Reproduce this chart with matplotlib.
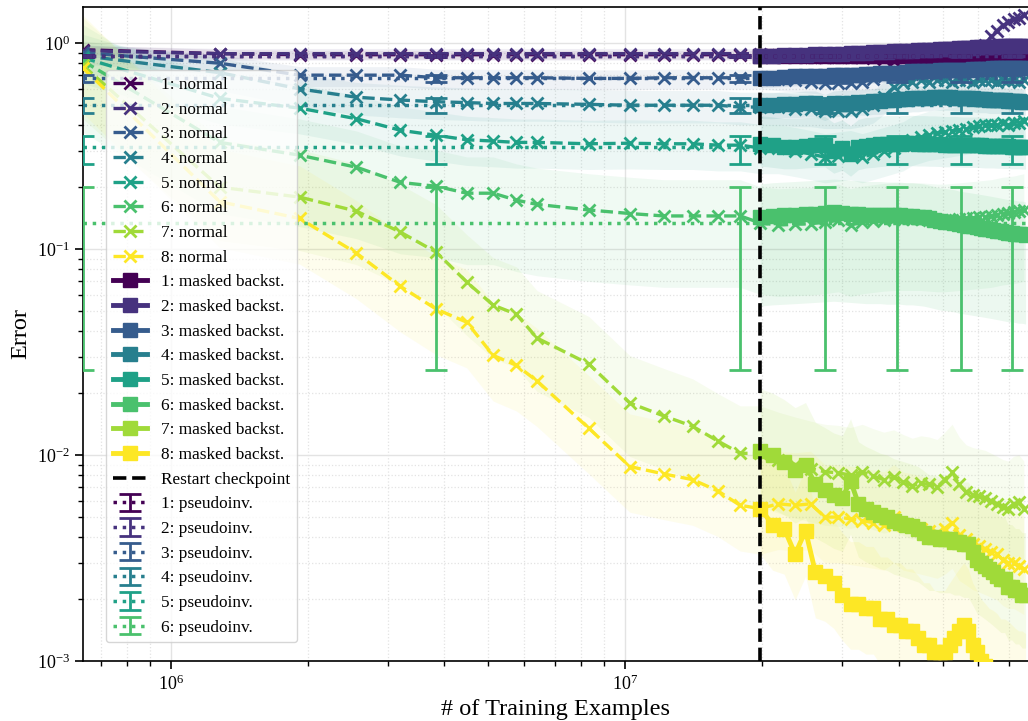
"""Error vs. number of training examples: normal / masked backstitching / pseudoinverse."""
import numpy as np
import matplotlib
matplotlib.use("Agg")
import matplotlib.pyplot as plt

plt.rcParams["font.family"] = "serif"
plt.rcParams["font.serif"] = ["Liberation Serif", "DejaVu Serif"]
plt.rcParams["mathtext.fontset"] = "stix"

STEP = 6.4e5  # training examples per evaluation step

# evaluation steps (multiples of STEP)
normal_k = [1, 2, 3, 4, 5, 6, 7, 8, 9, 10, 13, 16, 19, 22, 25, 28, 31,
            34, 37, 40, 43, 46, 49, 52, 55, 58, 61, 64, 67, 70, 73, 76,
            79, 82, 85, 88, 91, 94, 97, 100, 103, 106, 109, 112, 115, 118]
masked_k = [31, 33, 35, 37, 39, 41, 43, 45, 47, 49, 51, 53, 55, 57, 59,
            61, 63, 65, 67, 69, 71, 73, 75, 77, 79, 81, 83, 85, 87, 89,
            91, 93, 95, 97, 99, 101, 103, 105, 107, 109, 111, 113, 115, 117, 119]
restart_k = 31

normal = [
    [0.93, 0.89, 0.88, 0.88, 0.88, 0.88, 0.88, 0.88, 0.88, 0.88, 0.88, 0.88, 0.88, 0.88, 0.88, 0.88, 0.88,
     0.87, 0.87, 0.86, 0.86, 0.86, 0.86, 0.86, 0.85, 0.84, 0.82, 0.85, 0.86, 0.87, 0.87, 0.87,
     0.87, 0.87, 0.87, 0.88, 0.88, 0.88, 0.88, 0.88, 0.88, 0.88, 0.88, 0.88, 0.88, 0.88],
    [0.92, 0.89, 0.89, 0.89, 0.89, 0.89, 0.89, 0.89, 0.89, 0.89, 0.89, 0.89, 0.89, 0.89, 0.89, 0.89, 0.89,
     0.88, 0.88, 0.88, 0.88, 0.88, 0.88, 0.89, 0.89, 0.89, 0.89, 0.89, 0.89, 0.90, 0.90, 0.90,
     0.90, 0.90, 0.91, 0.91, 0.92, 0.94, 0.98, 1.08, 1.15, 1.22, 1.27, 1.31, 1.33, 1.37],
    [0.90, 0.80, 0.70, 0.70, 0.70, 0.68, 0.68, 0.68, 0.68, 0.68, 0.675, 0.675, 0.68, 0.68, 0.68, 0.68, 0.68,
     0.67, 0.66, 0.65, 0.64, 0.64, 0.64, 0.65, 0.67, 0.69, 0.70, 0.71, 0.71, 0.72, 0.72, 0.72,
     0.73, 0.73, 0.73, 0.74, 0.74, 0.74, 0.74, 0.75, 0.75, 0.75, 0.75, 0.75, 0.75, 0.76],
    [0.87, 0.72, 0.60, 0.547, 0.53, 0.52, 0.515, 0.51, 0.51, 0.51, 0.505, 0.50, 0.50, 0.50, 0.50, 0.49, 0.49,
     0.49, 0.48, 0.48, 0.47, 0.47, 0.47, 0.48, 0.50, 0.55, 0.61, 0.64, 0.65, 0.66, 0.65, 0.66,
     0.66, 0.65, 0.66, 0.66, 0.65, 0.66, 0.66, 0.66, 0.65, 0.66, 0.66, 0.66, 0.65, 0.66],
    [0.85, 0.54, 0.484, 0.43, 0.378, 0.357, 0.34, 0.335, 0.33, 0.33, 0.325, 0.327, 0.325, 0.325, 0.32, 0.32, 0.31,
     0.31, 0.30, 0.29, 0.28, 0.285, 0.29, 0.28, 0.29, 0.30, 0.31, 0.32, 0.34, 0.35, 0.36, 0.365,
     0.37, 0.375, 0.38, 0.385, 0.39, 0.395, 0.40, 0.40, 0.40, 0.41, 0.40, 0.41, 0.41, 0.42],
    [0.82, 0.33, 0.286, 0.25, 0.211, 0.202, 0.187, 0.187, 0.173, 0.165, 0.155, 0.149, 0.145, 0.145, 0.145, 0.145, 0.134,
     0.131, 0.132, 0.133, 0.135, 0.138, 0.131, 0.135, 0.137, 0.139, 0.140, 0.140, 0.140, 0.140, 0.139, 0.138,
     0.138, 0.139, 0.140, 0.141, 0.142, 0.143, 0.144, 0.145, 0.147, 0.149, 0.150, 0.151, 0.153, 0.155],
    [0.78, 0.20, 0.179, 0.153, 0.121, 0.0966, 0.0692, 0.0535, 0.0483, 0.037, 0.0277, 0.0179, 0.0155, 0.0138, 0.0117, 0.0102, 0.0102,
     0.0095, 0.0090, 0.0086, 0.0083, 0.0082, 0.0080, 0.0083, 0.0079, 0.0076, 0.0078, 0.0074, 0.0071, 0.0073, 0.0072, 0.0070,
     0.0076, 0.0083, 0.0072, 0.0066, 0.0064, 0.0063, 0.0062, 0.0060, 0.0058, 0.0056, 0.0055, 0.0058, 0.0059, 0.0055],
    [0.76, 0.17, 0.141, 0.0957, 0.066, 0.0511, 0.0442, 0.0305, 0.0273, 0.0229, 0.0135, 0.0088, 0.0081, 0.0076, 0.0067, 0.0057, 0.0055,
     0.0058, 0.0057, 0.0058, 0.0050, 0.0050, 0.0049, 0.0048, 0.0047, 0.0046, 0.0050, 0.0046, 0.0045, 0.0044, 0.0043, 0.0042,
     0.0044, 0.0047, 0.0041, 0.0039, 0.0037, 0.0036, 0.0035, 0.0034, 0.0033, 0.0031, 0.0030, 0.0030, 0.0029, 0.0028],
]
# relative band (spread over runs) for each normal curve
normal_lo = [0.95, 0.93, 0.88, 0.82, 0.75, 0.45, 0.55, 0.6]
normal_hi = [1.05, 1.06, 1.10, 1.18, 1.30, 1.50, 1.70, 1.8]

masked = [
    [0.87, 0.87, 0.87, 0.87, 0.87, 0.87, 0.87, 0.87, 0.87,
     0.87, 0.87, 0.87, 0.87, 0.87, 0.87, 0.87, 0.87, 0.87,
     0.87, 0.87, 0.87, 0.86, 0.86, 0.86, 0.86, 0.86, 0.86,
     0.86, 0.86, 0.86, 0.86, 0.86, 0.86, 0.86, 0.86, 0.86,
     0.86, 0.86, 0.86, 0.86, 0.86, 0.86, 0.86, 0.86, 0.86],
    [0.87, 0.87, 0.875, 0.88, 0.88, 0.885, 0.89, 0.89, 0.89,
     0.895, 0.90, 0.90, 0.905, 0.91, 0.91, 0.915, 0.92, 0.92,
     0.92, 0.925, 0.93, 0.93, 0.93, 0.935, 0.94, 0.94, 0.94,
     0.945, 0.95, 0.95, 0.95, 0.955, 0.955, 0.96, 0.96, 0.96,
     0.96, 0.965, 0.965, 0.97, 0.97, 0.97, 0.97, 0.975, 0.975],
    [0.68, 0.68, 0.685, 0.69, 0.69, 0.69, 0.695, 0.70, 0.70,
     0.70, 0.705, 0.71, 0.71, 0.715, 0.72, 0.72, 0.72, 0.725,
     0.73, 0.73, 0.73, 0.735, 0.735, 0.74, 0.74, 0.74, 0.74,
     0.745, 0.745, 0.745, 0.75, 0.75, 0.75, 0.75, 0.75, 0.755,
     0.755, 0.755, 0.755, 0.755, 0.76, 0.76, 0.76, 0.76, 0.76],
    [0.50, 0.50, 0.505, 0.505, 0.51, 0.51, 0.49, 0.51, 0.515,
     0.515, 0.52, 0.52, 0.525, 0.525, 0.53, 0.53, 0.535, 0.535,
     0.54, 0.54, 0.545, 0.545, 0.55, 0.55, 0.55, 0.55, 0.545,
     0.545, 0.54, 0.54, 0.54, 0.535, 0.535, 0.535, 0.53, 0.53,
     0.53, 0.53, 0.53, 0.525, 0.525, 0.525, 0.525, 0.52, 0.52],
    [0.325, 0.32, 0.315, 0.315, 0.318, 0.32, 0.322, 0.30, 0.31,
     0.29, 0.312, 0.318, 0.32, 0.323, 0.325, 0.325, 0.325, 0.326,
     0.326, 0.325, 0.325, 0.324, 0.324, 0.323, 0.322, 0.322, 0.322,
     0.321, 0.32, 0.32, 0.32, 0.32, 0.319, 0.318, 0.318, 0.318,
     0.317, 0.317, 0.316, 0.316, 0.315, 0.315, 0.315, 0.314, 0.314],
    [0.143, 0.145, 0.146, 0.147, 0.148, 0.149, 0.150, 0.151, 0.150,
     0.149, 0.148, 0.147, 0.147, 0.147, 0.146, 0.146, 0.146, 0.145,
     0.145, 0.144, 0.143, 0.141, 0.139, 0.137, 0.136, 0.135, 0.134,
     0.132, 0.131, 0.130, 0.129, 0.128, 0.127, 0.126, 0.125, 0.124,
     0.123, 0.122, 0.121, 0.120, 0.120, 0.119, 0.118, 0.118, 0.117],
    [0.0105, 0.0100, 0.0093, 0.0085, 0.0090, 0.0072, 0.0068, 0.0064, 0.0062,
     0.0075, 0.0058, 0.0055, 0.0053, 0.0051, 0.0050, 0.0048, 0.0047, 0.0046,
     0.0045, 0.0044, 0.0042, 0.0040, 0.0040, 0.0039, 0.0039, 0.0039, 0.0038,
     0.0038, 0.0037, 0.0037, 0.0034, 0.0031, 0.0030, 0.0029, 0.0028, 0.0027,
     0.0026, 0.0025, 0.0025, 0.0023, 0.0023, 0.0022, 0.0022, 0.0021, 0.0021],
    [0.0055, 0.0046, 0.0044, 0.0033, 0.0043, 0.0027, 0.0026, 0.0024, 0.0021,
     0.0019, 0.0019, 0.0018, 0.0018, 0.0016, 0.0016, 0.0015, 0.0015, 0.0014,
     0.0014, 0.0013, 0.0012, 0.0012, 0.0011, 0.0011, 0.0011, 0.0012, 0.0013,
     0.0014, 0.0015, 0.0014, 0.0012, 0.0011, 0.0010, 0.00095, 0.0009, 0.00088,
     0.00085, 0.0008, 0.0008, 0.00078, 0.00075, 0.00072, 0.0007, 0.0007, 0.00068],
]
masked_lo = [0.96, 0.95, 0.9, 0.86, 0.78, 0.37, 0.55, 0.6]
masked_hi = [1.04, 1.05, 1.1, 1.15, 1.37, 1.45, 2.0, 2.0]

# pseudoinverse baseline (constant), errorbars shown at a few steps
pinv_k = [1, 6, 28, 43, 62, 86, 111, 120]
pinv_show_err = [True, True, True, True, True, True, True, False]
pinv_val = [0.87, 0.87, 0.68, 0.50, 0.313, 0.134]
pinv_err_lo = [0.01, 0.01, 0.035, 0.04, 0.054, 0.108]
pinv_err_hi = [0.01, 0.01, 0.02, 0.04, 0.041, 0.066]

colors = plt.cm.viridis(np.linspace(0, 1, 8))

fig = plt.figure(figsize=(10.28, 7.21), dpi=100)
ax = fig.add_axes([83 / 1028, 60 / 721, 945 / 1028, 654 / 721])

xn = np.array(normal_k) * STEP
xm = np.array(masked_k) * STEP
xp = np.array(pinv_k) * STEP

for i in range(8):
    y = np.array(normal[i])
    ax.fill_between(xn, y * normal_lo[i], y * normal_hi[i], color=colors[i], alpha=0.08, lw=0, zorder=1)
    y = np.array(masked[i])
    ax.fill_between(xm, y * masked_lo[i], y * masked_hi[i], color=colors[i], alpha=0.1, lw=0, zorder=1)

for i in range(8):
    ax.plot(xn, normal[i], ls="--", marker="x", color=colors[i], lw=2.4, ms=9, mew=2,
            label=f"{i + 1}: normal", zorder=3)
for i in range(8):
    ax.plot(xm, masked[i], ls="-", marker="s", color=colors[i], lw=3.5, ms=10,
            label=f"{i + 1}: masked backst.", zorder=3)

ax.axvline(restart_k * STEP, color="k", ls="--", lw=2.6, label="Restart checkpoint", zorder=6)

for i in range(6):
    n = len(pinv_k)
    ax.errorbar(xp, [pinv_val[i]] * n,
                yerr=[[pinv_err_lo[i]] * n, [pinv_err_hi[i]] * n],
                errorevery=pinv_show_err, ls=":", color=colors[i], lw=2.5,
                elinewidth=2, capsize=8, capthick=2, label=f"{i + 1}: pseudoinv.", zorder=4)

ax.set_xscale("log")
ax.set_yscale("log")
ax.set_xlim(STEP, 120.5 * STEP)
ax.set_ylim(1e-3, 1.5)
ax.grid(which="major", color="#e3e3e3", lw=1)
ax.grid(which="minor", color="#e3e3e3", ls=":", lw=0.9)
ax.set_axisbelow(True)
ax.spines["right"].set_visible(False)
for s in ("left", "bottom", "top"):
    ax.spines[s].set_linewidth(1.2)
ax.tick_params(which="major", direction="out", length=6, width=1.2, labelsize=13)
ax.tick_params(which="minor", direction="out", length=3.5, width=1)
ax.set_xlabel("# of Training Examples", fontsize=17.5)
ax.set_ylabel("Error", fontsize=17.5)

ax.legend(loc="upper left", bbox_to_anchor=(0.0243, 0.9037), borderaxespad=0,
          fontsize=12.4, labelspacing=0.5, handlelength=2.0, framealpha=0.8)

fig.savefig("out.png", dpi=100)
